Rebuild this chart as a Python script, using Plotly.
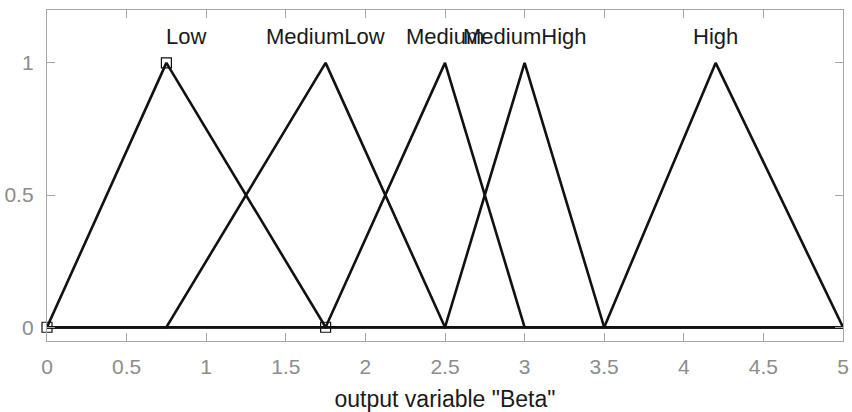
import plotly.graph_objects as go

# Membership functions of output variable "Beta" (triangular: a, b, c)
mf_names = ["Low", "MediumLow", "Medium", "MediumHigh", "High"]
mf_a = [0.0, 0.75, 1.75, 2.5, 3.5]
mf_b = [0.75, 1.75, 2.5, 3.0, 4.2]
mf_c = [1.75, 2.5, 3.0, 3.5, 5.0]
label_x = [0.875, 1.75, 2.5, 3.0, 4.2]
label_y = 1.1

x_range = [0.0, 5.0]
x_ticks = [0, 0.5, 1, 1.5, 2, 2.5, 3, 3.5, 4, 4.5, 5]
y_ticks = [0, 0.5, 1]

FONT = "Liberation Sans, Arial, sans-serif"

fig = go.Figure()

for i, name in enumerate(mf_names):
    xs = [x_range[0], mf_a[i], mf_b[i], mf_c[i], x_range[1]]
    ys = [0, 0, 1, 0, 0]
    fig.add_trace(go.Scatter(
        x=xs, y=ys, mode="lines",
        line=dict(color="#111111", width=2.6),
        showlegend=False, hoverinfo="skip", cliponaxis=False,
    ))

# selected membership function: vertices shown with square markers
fig.add_trace(go.Scatter(
    x=[mf_a[0], mf_b[0], mf_c[0]], y=[0, 1, 0], mode="markers",
    marker=dict(symbol="square-open", size=10, color="#111111",
                line=dict(width=1.2, color="#111111")),
    showlegend=False, hoverinfo="skip", cliponaxis=False,
))

for i, name in enumerate(mf_names):
    fig.add_annotation(
        x=label_x[i], y=label_y, text=name, showarrow=False,
        xanchor="center", yanchor="middle",
        font=dict(family=FONT, size=22, color="#1a1a1a"),
    )

axis_common = dict(
    showgrid=False, zeroline=False, showline=True, mirror="ticks",
    linecolor="#a6a6a6", linewidth=1.3,
    ticks="inside", ticklen=8, tickwidth=1.3, tickcolor="#a6a6a6",
    tickfont=dict(family=FONT, size=21, color="#8c8c8c"),
    automargin=False,
)

fig.update_layout(
    width=852, height=412,
    margin=dict(l=47, r=9, t=10, b=71),
    paper_bgcolor="white", plot_bgcolor="white",
    xaxis=dict(
        range=x_range, tickvals=x_ticks,
        ticktext=[f"{t:g}" for t in x_ticks],
        ticklabelstandoff=7,
        title=dict(text='output variable "Beta"', standoff=28,
                   font=dict(family=FONT, size=23, color="#1a1a1a")),
        **axis_common,
    ),
    yaxis=dict(
        range=[-0.052, 1.2], tickvals=y_ticks,
        ticktext=[f"{t:g}" for t in y_ticks],
        ticklabelstandoff=8,
        **axis_common,
    ),
)

fig.write_html("out.html")
